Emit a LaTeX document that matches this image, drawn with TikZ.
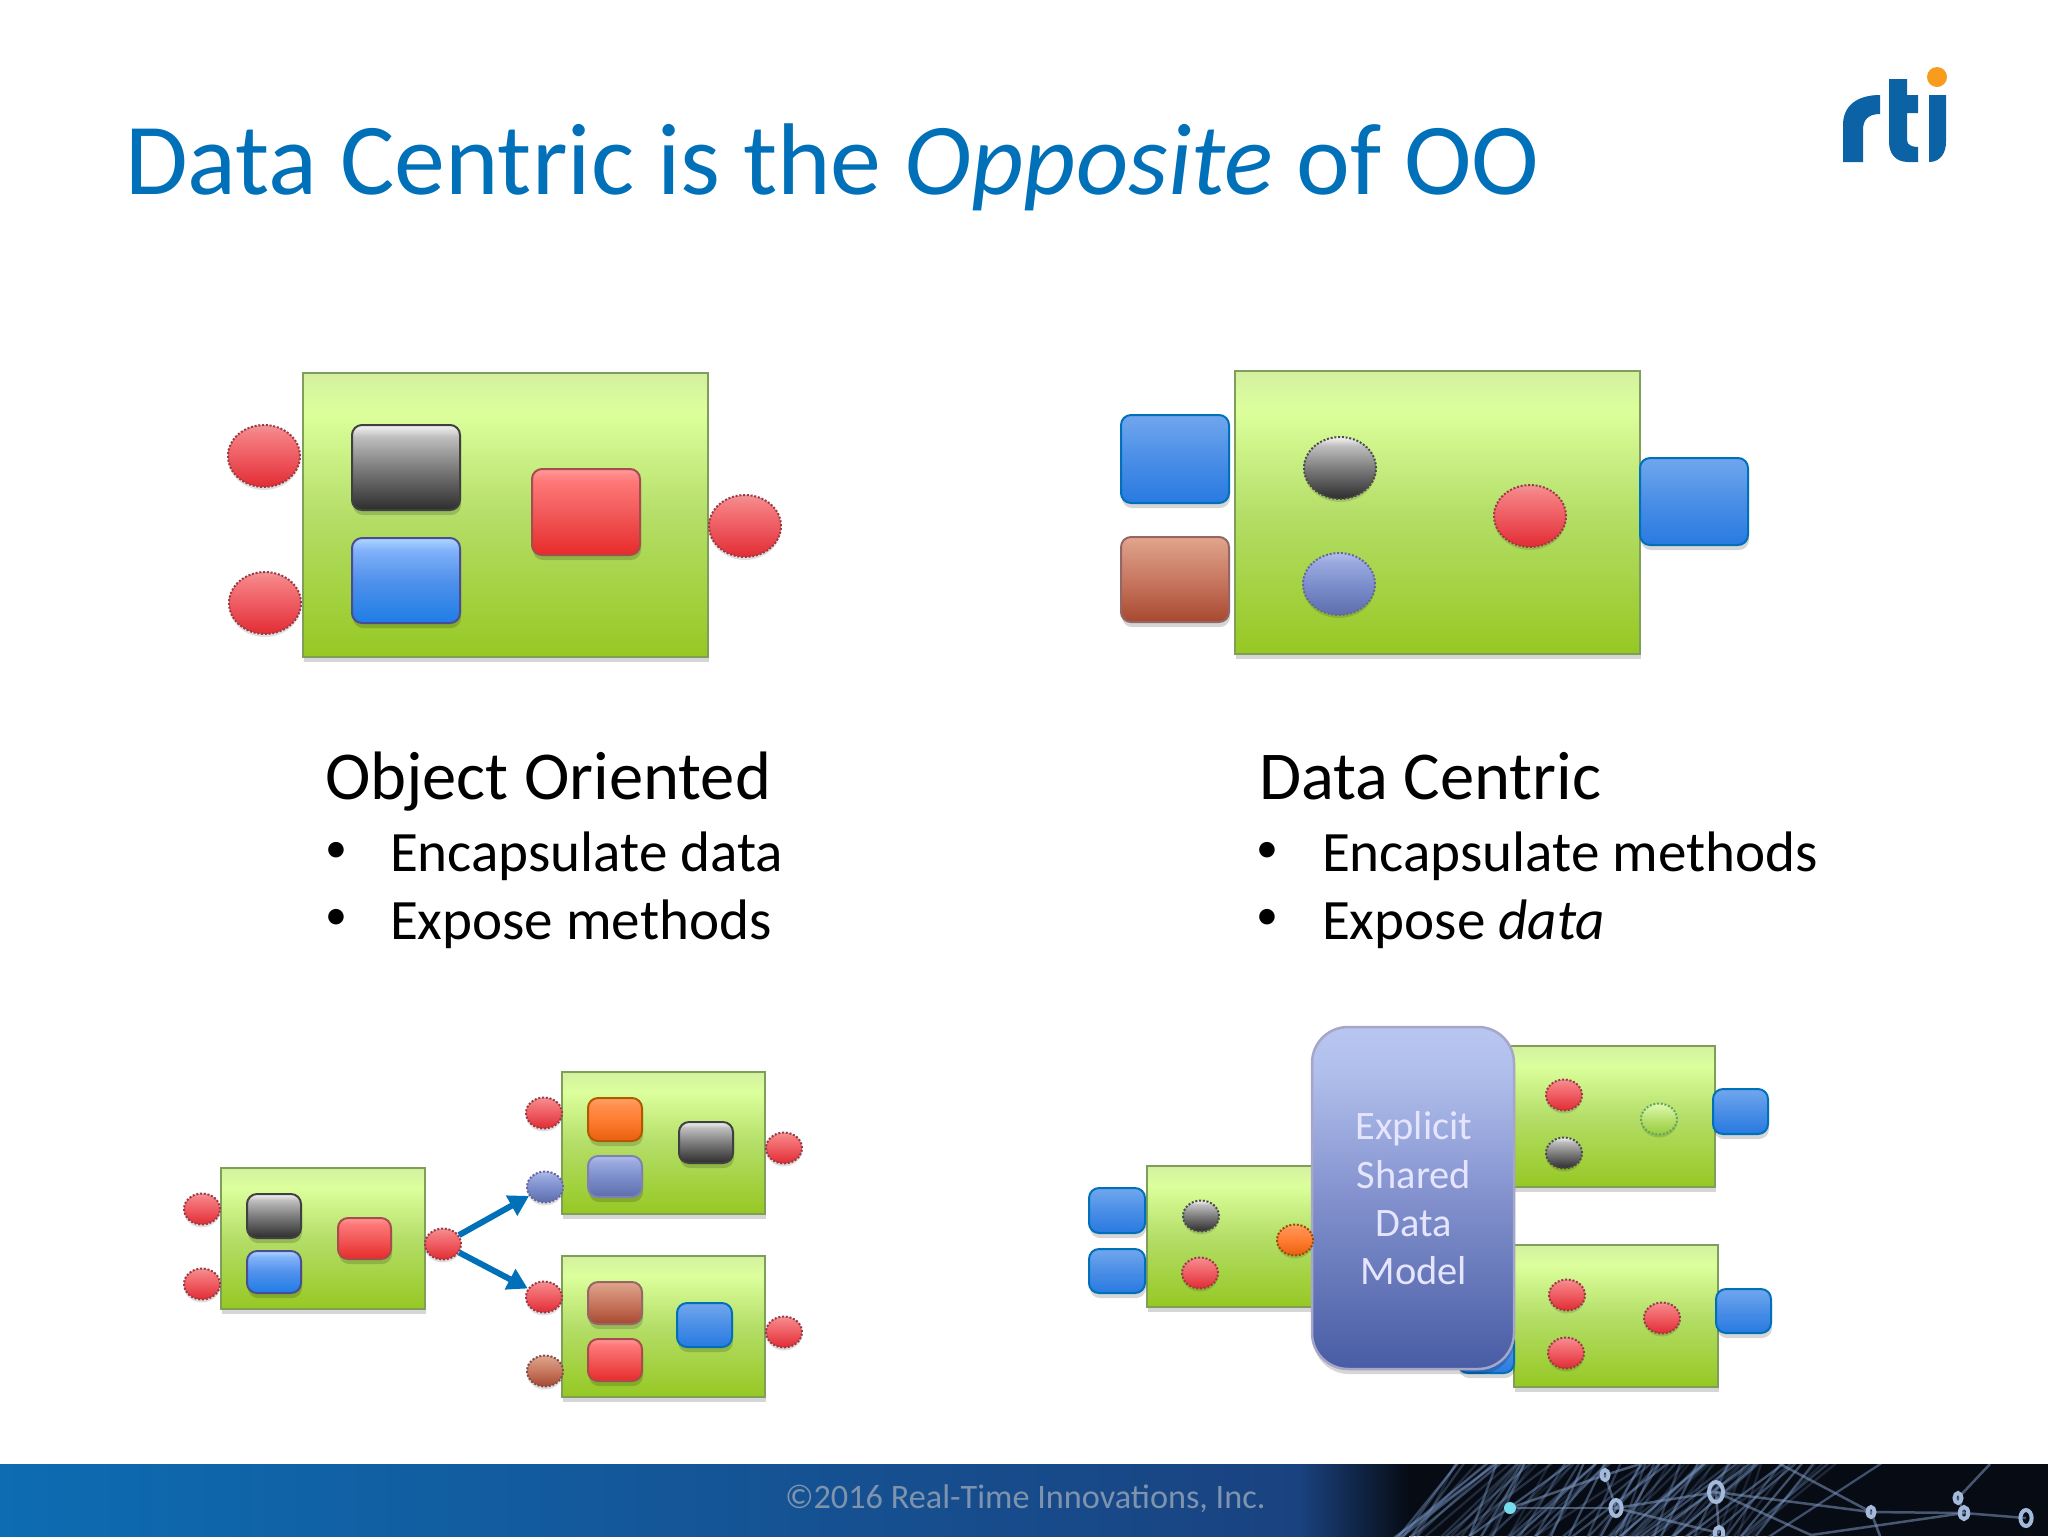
\documentclass[tikz,border=0pt]{standalone}
\usepackage{fontspec}
\setmainfont{Carlito}
\usetikzlibrary{shapes.geometric,arrows.meta,shadows}
\definecolor{rtiblue}{HTML}{0070B8}
\definecolor{logoblue}{HTML}{0B62A4}
\definecolor{logodot}{HTML}{F89C1F}
\definecolor{footgray}{HTML}{7E93AD}
\definecolor{bandL}{HTML}{0D6CB2}
\definecolor{bandM}{HTML}{155896}
\definecolor{bandR}{HTML}{1A4280}
\definecolor{bandK}{HTML}{070B14}
\definecolor{greenedge}{HTML}{7E9E5A}
\definecolor{streak}{HTML}{7C9CCC}
\definecolor{ballrim}{HTML}{9A3A44}
\newcommand{\vsh}[5]{%
  \definecolor{#1a}{HTML}{#2}\definecolor{#1b}{HTML}{#3}\definecolor{#1c}{HTML}{#4}\definecolor{#1d}{HTML}{#5}%
  \pgfdeclareverticalshading{#1}{100bp}{color(0bp)=(#1a);color(25bp)=(#1a);color(50bp)=(#1b);color(68bp)=(#1c);color(75bp)=(#1d);color(100bp)=(#1d)}}
\vsh{greensh}{96C823}{B4DE68}{DCFF9C}{D4F0A0}
\vsh{graysh}{2D2D2D}{7D7D7D}{BEBEBE}{F5F5F5}
\vsh{bluesh}{1E7DE6}{5091EB}{82B2FA}{AFD7FF}
\vsh{flatbluesh}{287AE1}{4A8EE6}{66A0EC}{70A5EE}
\vsh{redsh}{E82A2A}{F25A5A}{FF7878}{FF9A9A}
\vsh{ballredsh}{E22C34}{EE5C62}{F57E80}{F09498}
\vsh{orangesh}{E85F0F}{FF7D32}{FF9050}{FFA569}
\vsh{bgsh}{5C6EAC}{7D8ECD}{9AAADF}{B2BEEB}
\vsh{brownsh}{A84830}{C87860}{D89880}{E4A58C}
\vsh{limesh}{96CD3C}{B8E070}{D4F49C}{DEF8AA}
\vsh{modelsh}{485CA4}{8291CD}{B0BEEC}{B8C6F0}
\tikzset{
  softshadow/.style={general shadow={shadow xshift=0.02cm,shadow yshift=-0.1cm,fill=black,opacity=.16}},
  greenbox/.style={rectangle,shading=greensh,draw=greenedge,line width=0.05cm,softshadow},
  glossy/.style={rectangle,rounded corners=0.2cm,line width=0.04cm,softshadow},
  ball/.style={ellipse,line width=0.04cm,densely dotted,general shadow={shadow xshift=0cm,shadow yshift=-0.06cm,fill=black,opacity=.12}},
  sqgray/.style={glossy,shading=graysh,draw=black!75},
  sqblue/.style={glossy,shading=bluesh,draw=blue!40!black!70},
  sqflat/.style={glossy,shading=flatbluesh,draw=rtiblue},
  sqred/.style={glossy,shading=redsh,draw=red!50!black!70},
  sqorange/.style={glossy,shading=orangesh,draw=orange!70!black},
  sqbg/.style={glossy,shading=bgsh,draw=blue!40!black!50},
  sqbrown/.style={glossy,shading=brownsh,draw=red!30!black!60},
  bred/.style={ball,shading=ballredsh,draw=ballrim},
  bgray/.style={ball,shading=graysh,draw=black!70},
  bbg/.style={ball,shading=bgsh,draw=blue!40!black!60},
  bbrown/.style={ball,shading=brownsh,draw=red!30!black!70},
  borange/.style={ball,shading=orangesh,draw=orange!60!black},
  blime/.style={ball,shading=limesh,draw=green!40!black!60},
  flow/.style={draw=rtiblue,line width=0.12cm,-{Triangle[length=0.4cm,width=0.44cm]}},
  lbl/.style={anchor=base west,inner sep=0pt,outer sep=0pt},
  head/.style={lbl,font=\fontsize{39pt}{44pt}\selectfont},
  item/.style={lbl,font=\fontsize{32.5pt}{38pt}\selectfont},
  dotitem/.style={anchor=center,inner sep=0pt,font=\fontsize{25pt}{30pt}\selectfont},
  modeltext/.style={inner sep=0pt,text=white!90!blue,font=\fontsize{23pt}{27pt}\selectfont},
}
\newcommand{\bx}[6]{\node[#6,inner sep=0pt,minimum width={(#4-#2)*0.02cm},minimum height={(#5-#3)*0.02cm}] (#1) at ({(#2+#4)/2},{(#3+#5)/2}) {};}
\newcommand{\el}[5]{\node[#5,inner sep=0pt,minimum width={2*#4*0.02cm},minimum height={2*(#4*0.86)*0.02cm}] (#1) at (#2,#3) {};}
\begin{document}
\begin{tikzpicture}[x=0.02cm,y=-0.02cm]
\useasboundingbox (0,0) rectangle (2048,1536);
\fill[white] (0,0) rectangle (2048,1536);
% footer band
\node[rectangle,inner sep=0pt,minimum width={1300*0.02cm},minimum height={72*0.02cm},left color=bandL,middle color=bandM,right color=bandR] (bandA) at (650,1500) {};
\node[rectangle,inner sep=0pt,minimum width={640*0.02cm},minimum height={72*0.02cm},fill=bandK] (bandB) at (1728,1500) {};
\fill[left color=bandR,right color=bandK] (1299,1464) rectangle (1409,1536);
\begin{scope}
\clip (1300,1464) rectangle (2048,1536);
\pgfmathsetseed{11}
\foreach \i in {1,...,90}{
  \pgfmathsetmacro{\xa}{1390+rnd*380}
  \pgfmathsetmacro{\dx}{25+rnd*100}
  \pgfmathsetmacro{\op}{.12+rnd*.38}
  \draw[line width=0.045cm,draw=streak,opacity=\op] (\xa,1540) -- (\xa+\dx,1460);
}
\foreach \xa/\ya/\xb/\yb in {1510/1508/1616/1508,1510/1508/1605/1475,1616/1508/1716/1492,1605/1475/1640/1464,1716/1492/1871/1512,1716/1492/1811/1535,1716/1492/1719/1533,1871/1512/1964/1513,1964/1513/2026/1518,1958/1498/1964/1513,1871/1512/1880/1536,1605/1475/1616/1508,1616/1508/1719/1533,1811/1535/1964/1513,1958/1498/1990/1464,1780/1464/1871/1512}
  \draw[line width=0.05cm,draw=streak!80!gray,opacity=.55] (\xa,\ya) -- (\xb,\yb);
\foreach \cx/\cy/\r in {1716/1492/10,1616/1508/8,1871/1512/5,1964/1513/6,2026/1518/8,1958/1498/5,1605/1475/5,1719/1533/6}
  \draw[line width=0.08cm,draw=streak!70!white] (\cx,\cy) ellipse ({\r*0.7} and {\r});
\fill[streak!50!cyan!70!white] (1510,1508) circle (6);
\end{scope}
\node[lbl,text=footgray,font=\fontsize{19.5pt}{23pt}\selectfont] (copyright) at (785,1508) {©2016 Real-Time Innovations, Inc.};
% title
\node[lbl,text=rtiblue,font=\fontsize{58pt}{66pt}\selectfont] (title) at (125,194) {Data Centric is the \textit{Opposite} of OO};
% logo
\fill[logoblue] (1843,162) -- (1843,125) .. controls (1843,105) and (1858,95) .. (1880,95) -- (1880,114) .. controls (1868,114) and (1863,120) .. (1863,130) -- (1863,162) -- cycle;
\fill[logoblue] (1889,79) -- (1907,79) -- (1907,95) -- (1918,95) -- (1918,113) -- (1907,113) -- (1907,140) .. controls (1907,145) and (1912,147) .. (1918,147) -- (1918,162) -- (1908,162) .. controls (1896,162) and (1889,154) .. (1889,142) -- cycle;
\fill[logoblue] (1929,162) .. controls (1941,162) and (1946,152) .. (1946,142) -- (1946,95) -- (1929,95) -- cycle;
\fill[logodot] (1937,77) circle (10);
% top left
\bx{oo}{303}{373}{708}{657}{greenbox}
\bx{ooK}{352}{425}{460}{510}{sqgray}
\bx{ooB}{352}{538}{460}{623}{sqblue}
\bx{ooR}{532}{469}{640}{555}{sqred}
\el{ooa}{264}{456}{36}{bred}
\el{oob}{265}{603}{36}{bred}
\el{ooc}{745}{526}{36}{bred}
% top right
\bx{dc}{1235}{371}{1640}{654}{greenbox}
\bx{dcA}{1121}{415}{1229}{503}{sqflat}
\bx{dcB}{1121}{537}{1229}{622}{sqbrown}
\bx{dcC}{1640}{458}{1748}{545}{sqflat}
\el{dca}{1340}{468}{36}{bgray}
\el{dcb}{1339}{584}{36}{bbg}
\el{dcc}{1530}{516}{36}{bred}
% texts
\node[head] (ooH) at (325,799) {Object Oriented};
\node[dotitem] (ooI1) at (336,852) {•};
\node[item] (ooT1) at (390,871) {Encapsulate data};
\node[dotitem] (ooI2) at (336,919) {•};
\node[item] (ooT2) at (390,939) {Expose methods};
\node[head] (dcH) at (1259,799) {Data Centric};
\node[dotitem] (dcI1) at (1267,852) {•};
\node[item] (dcT1) at (1322,871) {Encapsulate methods};
\node[dotitem] (dcI2) at (1267,919) {•};
\node[item] (dcT2) at (1322,939) {Expose \textit{data}};
% bottom left
\bx{p}{221}{1168}{425}{1309}{greenbox}
\bx{pK}{247}{1194}{301}{1238}{sqgray}
\bx{pB}{247}{1251}{301}{1293}{sqblue}
\bx{pR}{338}{1218}{391}{1259}{sqred}
\el{pa}{202}{1209}{18}{bred}
\el{pb}{202}{1284}{18}{bred}
\el{pc}{443}{1244}{18}{bred}
\bx{q}{562}{1072}{765}{1214}{greenbox}
\bx{qO}{588}{1098}{642}{1141}{sqorange}
\bx{qG}{588}{1156}{642}{1197}{sqbg}
\bx{qK}{679}{1122}{733}{1163}{sqgray}
\el{qa}{544}{1113}{18}{bred}
\el{qb}{545}{1187}{18}{bbg}
\el{qc}{784}{1148}{18}{bred}
\bx{r}{562}{1256}{765}{1397}{greenbox}
\bx{rB}{588}{1282}{642}{1324}{sqbrown}
\bx{rR}{588}{1339}{642}{1381}{sqred}
\bx{rF}{677}{1303}{732}{1347}{sqflat}
\el{ra}{544}{1297}{18}{bred}
\el{rb}{545}{1371}{18}{bbrown}
\el{rc}{784}{1332}{18}{bred}
\draw[flow] (pc) -- (qb);
\draw[flow] (pc) -- (ra);
% bottom right
\bx{u}{1147}{1166}{1350}{1307}{greenbox}
\bx{v}{1500}{1046}{1715}{1187}{greenbox}
\bx{w}{1514}{1245}{1718}{1387}{greenbox}
\bx{hid}{1458}{1330}{1514}{1373}{sqflat}
\node[rectangle,rounded corners=0.72cm,shading=modelsh,draw=blue!40!black!35,line width=0.05cm,softshadow,inner sep=0pt,minimum width={202*0.02cm},minimum height={342*0.02cm}] (model) at (1413,1198) {};
\node[modeltext] (m1) at (1414,1129) {Explicit};
\node[modeltext] (m2) at (1414,1175) {Shared};
\node[modeltext] (m3) at (1414,1224) {Data};
\node[modeltext] (m4) at (1414,1271) {Model};
\bx{uA}{1089}{1188}{1145}{1233}{sqflat}
\bx{uB}{1089}{1249}{1145}{1293}{sqflat}
\el{ua}{1201}{1216}{18}{bgray}
\el{ub}{1200}{1273}{18}{bred}
\el{uc}{1295}{1240}{18}{borange}
\bx{vA}{1713}{1089}{1768}{1134}{sqflat}
\el{va}{1564}{1095}{18}{bred}
\el{vb}{1564}{1153}{18}{bgray}
\el{vc}{1659}{1119}{18}{blime}
\bx{wA}{1716}{1289}{1771}{1333}{sqflat}
\el{wa}{1567}{1295}{18}{bred}
\el{wb}{1566}{1353}{18}{bred}
\el{wc}{1662}{1318}{18}{bred}
\end{tikzpicture}
\end{document}
